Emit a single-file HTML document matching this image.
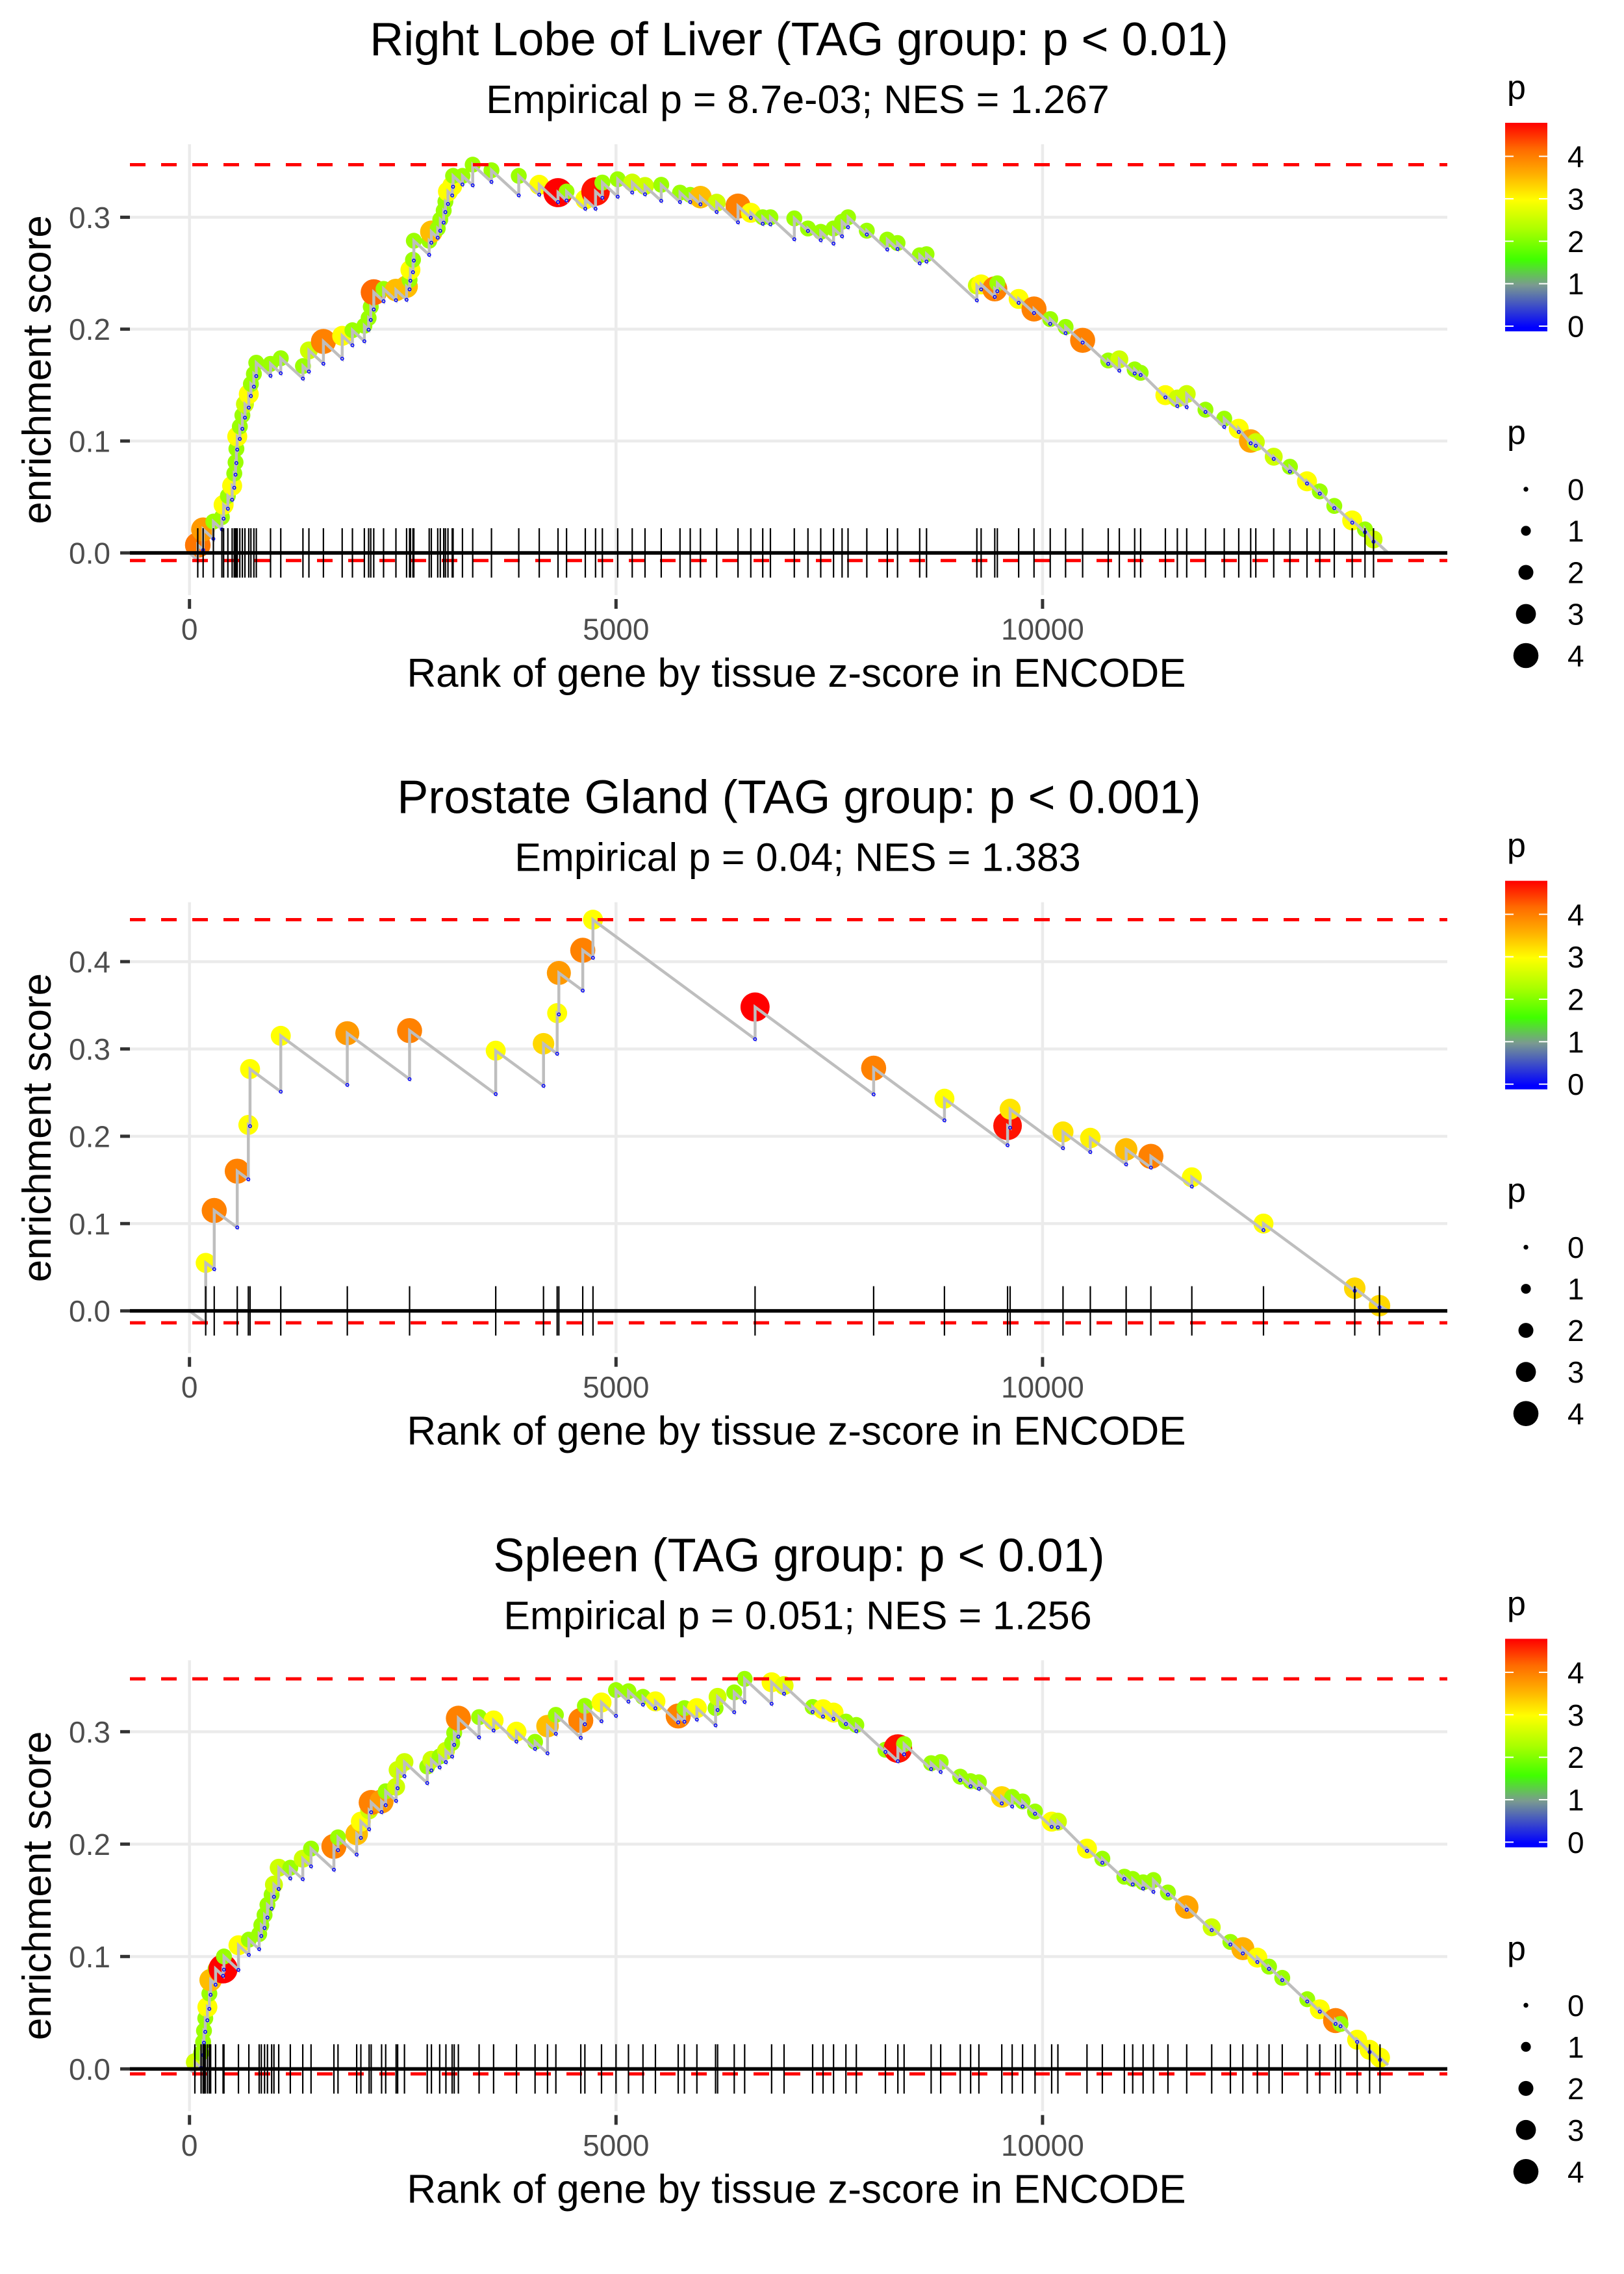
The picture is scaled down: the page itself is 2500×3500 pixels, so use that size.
<!DOCTYPE html>
<html><head><meta charset="utf-8"><title>Enrichment plots</title>
<style>
html,body{margin:0;padding:0;background:#fff;}
svg{display:block;font-family:"Liberation Sans",Arial,sans-serif;}
</style></head>
<body>
<svg id="chart" xmlns="http://www.w3.org/2000/svg" width="2500" height="3500" viewBox="0 0 2500 3500">
<defs>
<linearGradient id="pgrad" x1="0" y1="1" x2="0" y2="0">
<stop offset="0.0187" stop-color="#0000FF"/>
<stop offset="0.222" stop-color="#7A9A90"/>
<stop offset="0.344" stop-color="#40FF00"/>
<stop offset="0.487" stop-color="#AAFF00"/>
<stop offset="0.630" stop-color="#FFFF00"/>
<stop offset="0.752" stop-color="#FFB000"/>
<stop offset="0.874" stop-color="#FF6A00"/>
<stop offset="1" stop-color="#FF0000"/>
</linearGradient>
</defs>
</svg>
<script>
// ---------- data ----------
const xTicks = [0, 5000, 10000];
const xTickLabels = ["0", "5000", "10000"];
const legendTicks = [0, 1, 2, 3, 4];

const p1Title = "Right Lobe of Liver (TAG group: p < 0.01)";
const p1Sub = "Empirical p = 8.7e-03; NES = 1.267";
const p1YTicks = [0, 0.1, 0.2, 0.3];
const p1YTickLabels = ["0.0", "0.1", "0.2", "0.3"];
const p1Rank = [97,160,280,380,400,450,500,525,540,550,560,590,620,650,695,720,755,783,950,1070,1330,1400,1570,1790,1910,2050,2100,2125,2160,2275,2420,2545,2580,2590,2620,2630,2810,2835,2910,2940,2980,3000,3030,3080,3090,3200,3320,3540,3860,4100,4320,4420,4640,4760,4840,5020,5190,5340,5530,5750,5870,5990,6180,6430,6580,6720,6810,7090,7250,7400,7550,7650,7720,7940,8180,8300,8560,8640,9230,9280,9440,9470,9720,9900,10090,10270,10470,10770,10900,11080,11150,11440,11580,11690,11910,12130,12300,12440,12500,12710,12900,13100,13250,13420,13630,13780,13880];
const p1ES = [.007,.021,.028,.032,.043,.051,.06,.071,.081,.093,.104,.113,.123,.133,.142,.151,.16,.17,.169,.174,.167,.181,.189,.194,.199,.203,.21,.22,.233,.236,.235,.238,.244,.253,.262,.279,.279,.287,.29,.298,.306,.314,.323,.328,.337,.337,.347,.342,.337,.329,.322,.323,.316,.323,.331,.334,.331,.328,.329,.322,.32,.318,.313,.31,.304,.3,.3,.299,.29,.287,.29,.296,.3,.288,.28,.277,.266,.267,.239,.24,.236,.241,.227,.218,.209,.202,.19,.172,.173,.164,.161,.141,.138,.142,.128,.12,.111,.1,.099,.086,.077,.064,.055,.042,.029,.021,.012];
const p1P = [4.1,3.8,2.2,2.2,3,2.2,3,2.2,2.2,2.2,3,2.2,2.2,2.6,3,2.2,2.2,2.2,2.2,2.2,2.2,2.6,4,3,2.2,2.2,2.2,2.2,4.2,2.2,3.5,3.5,2.2,3,2.2,2.2,2.2,3.5,2.2,2.2,2.2,2.2,3,3,2.2,2.2,2.2,2.2,2.2,3,4.8,2.2,3,4.7,2.2,2.2,2.6,2.6,2.2,2.2,2.2,3.5,2.6,4,3,2.2,2.2,2.2,2.2,2.2,2.2,2.2,2.2,2.2,2.2,2.2,2.2,2.2,2.6,3,4,2.2,3,4,2.2,2.2,4,2.2,2.6,2.2,2.2,3,2.6,2.6,2.2,2.2,3,3.7,2.6,2.6,2.2,3,2.2,2.2,3,2.2,2.6];

const p2Title = "Prostate Gland (TAG group: p < 0.001)";
const p2Sub = "Empirical p = 0.04; NES = 1.383";
const p2YTicks = [0, 0.1, 0.2, 0.3, 0.4];
const p2YTickLabels = ["0.0", "0.1", "0.2", "0.3", "0.4"];
const p2Rank = [190,290,560,690,710,1070,1850,2580,3590,4150,4310,4330,4610,4730,6630,8020,8850,9590,9620,10240,10560,10980,11270,11750,12590,13660,13950];
const p2ES = [.055,.115,.16,.213,.277,.315,.318,.321,.298,.306,.341,.387,.413,.448,.348,.278,.243,.212,.231,.205,.198,.185,.177,.153,.1,.026,.006];
const p2P = [3,4,4,3,3,3,3.8,4,3,3.3,3,3.8,4,3,4.8,4,3,4.7,3.2,3.2,3.1,3.5,4,3,3,3.3,3.3];

const p3Title = "Spleen (TAG group: p < 0.01)";
const p3Sub = "Empirical p = 0.051; NES = 1.256";
const p3YTicks = [0, 0.1, 0.2, 0.3];
const p3YTickLabels = ["0.0", "0.1", "0.2", "0.3"];
const p3Rank = [63,136,160,170,185,210,233,248,306,394,404,574,696,817,842,880,914,963,990,1046,1182,1328,1425,1693,1741,1960,2009,2106,2130,2252,2300,2422,2440,2520,2787,2836,2933,3006,3079,3103,3152,3395,3565,3833,4051,4197,4295,4587,4635,4830,5000,5146,5316,5462,5729,5802,5948,6167,6191,6386,6508,6824,6970,7305,7427,7550,7695,7817,8158,8304,8377,8694,8806,9035,9157,9254,9522,9644,9766,9912,10107,10180,10521,10701,10959,11057,11179,11300,11470,11690,11983,12202,12348,12518,12655,12810,13103,13250,13435,13493,13688,13834,13956];
const p3ES = [.006,.014,.024,.034,.045,.055,.067,.079,.089,.089,.1,.11,.115,.12,.128,.137,.146,.155,.164,.179,.179,.187,.196,.198,.206,.209,.22,.23,.237,.238,.247,.251,.266,.273,.269,.275,.278,.283,.29,.299,.312,.313,.31,.3,.291,.305,.315,.31,.323,.326,.337,.336,.331,.327,.314,.321,.321,.321,.331,.335,.347,.344,.341,.322,.32,.317,.309,.306,.284,.285,.289,.272,.273,.26,.256,.255,.242,.242,.238,.229,.22,.22,.196,.187,.171,.169,.166,.168,.157,.144,.126,.113,.107,.099,.091,.081,.062,.053,.043,.04,.026,.017,.01];
const p3P = [2.6,2.2,2.2,2.2,2.2,3,2.2,3.5,2.2,4.8,2.2,3,2.2,2.2,2.2,2.2,2.2,2.2,2.6,2.6,2.2,2.6,2.2,4,2.2,3.5,3,2.6,4,3.8,2.2,2.6,2.6,2.6,2.2,2.6,2.2,2.6,2.2,2.2,4,2.2,3,3,2.2,3.5,2.2,4,2.2,3,2.2,2.2,2.2,3,4,2.2,3,2.2,2.6,2.2,2.2,3,2.8,2.2,3,3,2.2,2.2,2.2,4.7,2.2,2.2,2.2,2.2,2.2,2.2,3.3,2.2,2.2,2.2,3,2.6,3,2.2,2.2,2.2,2.2,2.2,2.2,3.7,2.6,2.2,3.6,3,2.2,2.2,2.2,3,4,2.2,3,3,3];

const nGenes = 14050;

// ---------- helpers ----------
const NS = "http://www.w3.org/2000/svg";
const svg = document.getElementById("chart");
function mk(tag, attrs, parent) {
  const e = document.createElementNS(NS, tag);
  for (const k in attrs) e.setAttribute(k, attrs[k]);
  (parent || svg).appendChild(e);
  return e;
}
const colorStops = [[0,[0,0,255]],[1,[122,154,144]],[1.6,[64,255,0]],[2.3,[170,255,0]],[3,[255,255,0]],[3.6,[255,176,0]],[4.2,[255,106,0]],[4.8,[255,0,0]]];
function pColor(p) {
  if (p <= colorStops[0][0]) return "rgb(0,0,255)";
  for (let i = 1; i < colorStops.length; i++) {
    if (p <= colorStops[i][0]) {
      const a = colorStops[i-1], b = colorStops[i];
      const t = (p - a[0]) / (b[0] - a[0]);
      const c = a[1].map((v, j) => Math.round(v + t * (b[1][j] - v)));
      return "rgb(" + c.join(",") + ")";
    }
  }
  return "rgb(255,0,0)";
}
function pRadius(p) { return 3.7 + 3.9 * p; }
const X0 = 291.7, XS = 0.13132;
function xPx(r) { return X0 + r * XS; }
const PL = 200, PR = 2228, PT = 222, PB = 916, ZERO = 851;

function drawPanel(k, title, sub, rank, es, pv, yTicks, yLabels, yScale, decr) {
  const off = k * 1166.667;
  const g = mk("g", {});
  
  
  function yPx(v) { return off + ZERO - v * yScale; }

  // titles
  let t = mk("text", {x: 1230, y: off + 85, "text-anchor": "middle", "font-size": 72, fill: "#000"}, g);
  t.textContent = title;
  
  
  t = mk("text", {x: 1228, y: off + 174, "text-anchor": "middle", "font-size": 61, fill: "#000"}, g);
  t.textContent = sub;
  
  

  // grid
  const grid = mk("g", {stroke: "#EBEBEB", "stroke-width": 4.5}, g);
  
  
  yTicks.forEach(v => mk("line", {x1: PL, x2: PR, y1: yPx(v), y2: yPx(v)}, grid));
  xTicks.forEach(v => mk("line", {x1: xPx(v), x2: xPx(v), y1: off + PT, y2: off + PB}, grid));

  // y axis ticks and labels
  yTicks.forEach((v, i) => {
    mk("line", {x1: 185, x2: 200, y1: yPx(v), y2: yPx(v), stroke: "#333", "stroke-width": 5}, g);
    const lb = mk("text", {x: 170, y: yPx(v) + 16.5, "text-anchor": "end", "font-size": 46, fill: "#4D4D4D"}, g);
    lb.textContent = yLabels[i];
    
    
  });
  xTicks.forEach((v, i) => {
    mk("line", {x1: xPx(v), x2: xPx(v), y1: off + 922, y2: off + 937, stroke: "#333", "stroke-width": 5}, g);
    const lb = mk("text", {x: xPx(v), y: off + 984.5, "text-anchor": "middle", "font-size": 46, fill: "#4D4D4D"}, g);
    lb.textContent = xTickLabels[i];
    
    
  });
  t = mk("text", {x: 1226, y: off + 1057, "text-anchor": "middle", "font-size": 62, fill: "#000"}, g);
  t.textContent = "Rank of gene by tissue z-score in ENCODE";
  
  
  t = mk("text", {x: 0, y: 0, "text-anchor": "middle", "font-size": 62, fill: "#000",
    transform: "translate(78," + (off + 569) + ") rotate(-90)"}, g);
  t.textContent = "enrichment score";
  
  

  // running sum: lows before each hit
  const lows = [];
  let prevR = 0, prevE = 0;
  const linePts = [[xPx(0), yPx(0)]];
  for (let i = 0; i < rank.length; i++) {
    let low = Math.min(prevE - decr * (rank[i] - prevR), es[i] - 0.002);
    lows.push(low);
    linePts.push([xPx(rank[i]), yPx(low)]);
    linePts.push([xPx(rank[i]), yPx(es[i])]);
    prevR = rank[i]; prevE = es[i];
  }
  const endE = Math.max(0, prevE - decr * (nGenes - prevR));
  linePts.push([xPx(nGenes), yPx(endE)]);

  // points
  const pts = mk("g", {}, g);
  
  
  for (let i = 0; i < rank.length; i++) {
    const c = mk("circle", {cx: xPx(rank[i]), cy: yPx(es[i]), r: pRadius(pv[i]), fill: pColor(pv[i])}, pts);
    
    
  }
  const ln = mk("polyline", {points: linePts.map(q => q[0].toFixed(1) + "," + q[1].toFixed(1)).join(" "),
    fill: "none", stroke: "#BEBEBE", "stroke-width": 4.5, "stroke-linejoin": "miter"}, g);
  
  
  for (let i = 0; i < rank.length; i++) {
    const c = mk("circle", {cx: xPx(rank[i]), cy: yPx(lows[i]), r: 2.2, fill: "none", stroke: "#0000FF", "stroke-width": 1.5}, g);
    
    
  }

  // max/min dashed lines
  const maxE = Math.max(...es), minE = Math.min(0, ...lows);
  [maxE, minE].forEach((v, j) => {
    const l = mk("line", {x1: PL, x2: PR, y1: yPx(v), y2: yPx(v), stroke: "#FF0000", "stroke-width": 5, "stroke-dasharray": "24 24"}, g);
    
    
  });
  const zl = mk("line", {x1: PL, x2: PR, y1: yPx(0), y2: yPx(0), stroke: "#000", "stroke-width": 5.5}, g);
  
  

  // rug
  const rug = mk("g", {stroke: "#000", "stroke-width": 2.2}, g);
  
  
  rank.forEach(r => mk("line", {x1: xPx(r), x2: xPx(r), y1: off + 813, y2: off + 889}, rug));

  // legends
  const lg = mk("g", {}, g);
  
  
  t = mk("text", {x: 2320, y: off + 152, "font-size": 52, fill: "#000"}, lg);
  t.textContent = "p";
  mk("rect", {x: 2317, y: off + 189, width: 65, height: 321, fill: "url(#pgrad)"}, lg);
  legendTicks.forEach(v => {
    const yy = off + 502 - v * 65.35;
    mk("line", {x1: 2317, x2: 2330, y1: yy, y2: yy, stroke: "#fff", "stroke-width": 2}, lg);
    mk("line", {x1: 2369, x2: 2382, y1: yy, y2: yy, stroke: "#fff", "stroke-width": 2}, lg);
    const tl = mk("text", {x: 2413, y: yy + 16.5, "font-size": 46, fill: "#000"}, lg);
    tl.textContent = String(v);
  });
  const sg = mk("g", {}, g);
  
  
  t = mk("text", {x: 2320, y: off + 683, "font-size": 52, fill: "#000"}, sg);
  t.textContent = "p";
  legendTicks.forEach((v, i) => {
    const yy = off + 753 + i * 64;
    mk("circle", {cx: 2349, cy: yy, r: pRadius(v), fill: "#000"}, sg);
    const tl = mk("text", {x: 2413, y: yy + 16.5, "font-size": 46, fill: "#000"}, sg);
    tl.textContent = String(v);
  });
}

drawPanel(0, p1Title, p1Sub, p1Rank, p1ES, p1P, p1YTicks, p1YTickLabels, 1722, 7e-5);
drawPanel(1, p2Title, p2Sub, p2Rank, p2ES, p2P, p2YTicks, p2YTickLabels, 1344, 7.2e-5);
drawPanel(2, p3Title, p3Sub, p3Rank, p3ES, p3P, p3YTicks, p3YTickLabels, 1730, 7e-5);
</script>
</body></html>
